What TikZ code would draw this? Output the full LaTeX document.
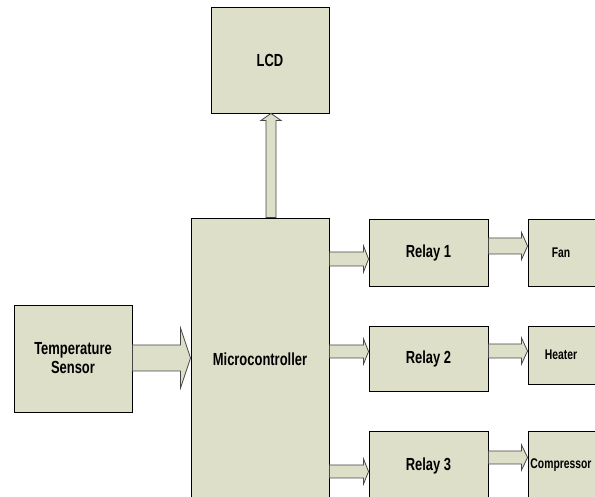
\documentclass[tikz,border=0pt]{standalone}
\usepackage{fontspec}
\newfontfamily\cond[FakeStretch=0.74]{Liberation Sans}
\usetikzlibrary{calc}
\definecolor{boxfill}{RGB}{221,223,201}
\definecolor{arrline}{RGB}{70,70,70}
\tikzset{
  blk/.style={draw=black, line width=0.9pt, fill=boxfill, rectangle, inner sep=0pt, align=center,
    font=\cond\bfseries\fontsize{17.5}{19}\selectfont},
  smallblk/.style={blk, font=\cond\bfseries\fontsize{14}{16}\selectfont},
  arr/.style={draw=arrline, line width=0.8pt, fill=boxfill, line join=miter}
}
% horizontal block arrow: #1 from node, #2 to node, #3 y centre (pt), #4 shaft half, #5 head half, #6 head length
\newcommand\harrow[6]{%
  \draw[arr] let \p1=(#1.east), \p2=(#2.west) in
    (\x1,#3pt+#4pt) -- (\x2-#6pt,#3pt+#4pt) -- (\x2-#6pt,#3pt+#5pt) -- (\x2,#3pt)
    -- (\x2-#6pt,#3pt-#5pt) -- (\x2-#6pt,#3pt-#4pt) -- (\x1,#3pt-#4pt) -- cycle;}
\begin{document}
\begin{tikzpicture}[x=1pt,y=1pt]
\useasboundingbox (0,0) rectangle (595,497);
\clip (0,0) rectangle (595,497);
% blocks
\node[blk, minimum width=118pt, minimum height=106pt] (lcd) at (270,437) {LCD};
\node[blk, minimum width=138pt, minimum height=282pt] (micro) at (260,138) {Microcontroller};
\node[blk, minimum width=118pt, minimum height=107pt] (temp) at (73,138.5) {Temperature\\Sensor};
\node[blk, minimum width=119pt, minimum height=67pt] (r1) at (428.5,244.5) {Relay 1};
\node[blk, minimum width=119pt, minimum height=65pt] (r2) at (428.5,138.5) {Relay 2};
\node[blk, minimum width=119pt, minimum height=69pt] (r3) at (428.5,31.5) {Relay 3};
\node[smallblk, minimum width=69pt, minimum height=67pt, text depth=0pt] (fan) at (562.5,244.5) {\hspace*{-3pt}Fan};
\node[smallblk, minimum width=69pt, minimum height=58pt] (heater) at (562.5,142) {\hspace*{-3pt}Heater};
\node[smallblk, minimum width=69pt, minimum height=69pt] (comp) at (562.5,31.5) {\hspace*{-3pt}Compressor};
% vertical block arrow micro -> lcd
\draw[arr] let \p1=(micro.north), \p2=(lcd.south) in
  (266pt,\y1) -- (266pt,\y2-7pt) -- (261pt,\y2-7pt) -- (271pt,\y2) -- (281pt,\y2-7pt)
  -- (276pt,\y2-7pt) -- (276pt,\y1) -- cycle;
% horizontal block arrows
\harrow{temp}{micro}{139}{13}{30}{10}
\harrow{micro}{r1}{238}{7}{13}{5}
\harrow{micro}{r2}{145.5}{6.5}{12.5}{5}
\harrow{micro}{r3}{25.5}{6.5}{12.5}{5}
\harrow{r1}{fan}{251}{8}{13.5}{6}
\harrow{r2}{heater}{146}{7}{13}{6}
\harrow{r3}{comp}{39.5}{6.5}{12.5}{6}
\end{tikzpicture}
\end{document}
